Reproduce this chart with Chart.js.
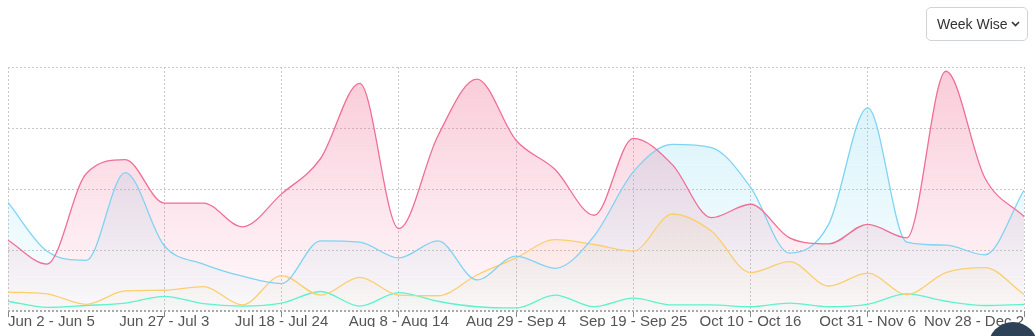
<!DOCTYPE html>
<html lang="en">
<head>
  <meta charset="UTF-8" />
  <title>Weekly Trend</title>
  <script src="https://cdn.jsdelivr.net/npm/chart.js"></script>
  <style>
    body { margin: 0; background: #fff; font-family: "Liberation Sans", Arial, sans-serif; }
    .wrap { position: relative; width: 1036px; height: 336px; overflow: hidden; }
    .chart-box { position: absolute; left: 0; top: 0; width: 1036px; height: 336px; }
    .week-select {
      position: absolute; left: 926px; top: 7px; width: 100px; height: 32px;
      border: 1px solid #cfd4da; border-radius: 5px; background: #fff;
      font-size: 14px; color: #333; line-height: 32px; box-sizing: content-box;
    }
    .week-select span { position: absolute; left: 10px; }
    .week-select svg { position: absolute; right: 7px; top: 13px; }
    .chat-btn {
      position: absolute; left: 988px; top: 322px; width: 50px; height: 50px;
      border-radius: 50%; background: #2d4157;
    }
  </style>
</head>
<body>
  <div class="wrap">
    <div class="chart-box"><canvas id="weekChart"></canvas></div>

    <!-- period dropdown -->
    <div class="week-select">
      <span>Week Wise</span>
      <svg width="9" height="6" viewBox="0 0 9 6"><path d="M1 1 L4.5 4.5 L8 1" fill="none" stroke="#333" stroke-width="1.6"/></svg>
    </div>

    <div class="chat-btn"></div>
  </div>

  <script>
    const weeks = [
      'Jun 2 - Jun 5', 'Jun 6 - Jun 12', 'Jun 13 - Jun 19', 'Jun 20 - Jun 26', 'Jun 27 - Jul 3',
      'Jul 4 - Jul 10', 'Jul 11 - Jul 17', 'Jul 18 - Jul 24', 'Jul 25 - Jul 31', 'Aug 1 - Aug 7',
      'Aug 8 - Aug 14', 'Aug 15 - Aug 21', 'Aug 22 - Aug 28', 'Aug 29 - Sep 4', 'Sep 5 - Sep 11',
      'Sep 12 - Sep 18', 'Sep 19 - Sep 25', 'Sep 26 - Oct 2', 'Oct 3 - Oct 9', 'Oct 10 - Oct 16',
      'Oct 17 - Oct 23', 'Oct 24 - Oct 30', 'Oct 31 - Nov 6', 'Nov 7 - Nov 13', 'Nov 14 - Nov 20',
      'Nov 21 - Nov 27', 'Nov 28 - Dec 2'
    ];
    // which week labels get a tick + grid line
    const shownWeeks = [0, 4, 7, 10, 13, 16, 19, 22, 26];

    const pinkSeries   = [11.6, 7.7, 22.5, 24.8, 17.7, 17.7, 13.8, 19.2, 25.0, 37.3, 13.5, 28.7, 38.0, 28.0, 23.2, 15.7, 28.3, 24.0, 15.3, 17.5, 12.0, 11.0, 14.2, 12.0, 39.3, 21.8, 15.5];
    const blueSeries   = [17.8, 9.8, 8.3, 22.7, 10.7, 7.7, 5.7, 4.5, 11.5, 11.3, 8.7, 11.5, 5.1, 9.0, 7.0, 12.3, 22.8, 27.3, 26.8, 20.3, 9.5, 14.2, 33.3, 11.3, 10.8, 9.2, 19.8];
    const yellowSeries = [3.1, 2.8, 1.1, 3.3, 3.4, 4.0, 1.0, 5.8, 2.6, 5.5, 2.6, 2.5, 5.9, 8.7, 11.7, 10.9, 9.8, 15.9, 13.1, 6.3, 8.1, 4.1, 6.2, 2.7, 6.3, 7.1, 2.7];
    const tealSeries   = [1.6, 0.6, 0.9, 1.3, 2.4, 1.2, 0.8, 1.3, 3.2, 0.8, 3.0, 1.6, 0.7, 0.5, 2.6, 0.7, 2.1, 1.0, 1.0, 0.7, 1.3, 0.7, 1.1, 2.8, 1.6, 0.9, 1.1];

    // vertical fade fill, strong at top, almost white at the bottom
    function fade(rgb, topAlpha) {
      return (context) => {
        const { ctx, chartArea } = context.chart;
        if (!chartArea) return 'rgba(' + rgb + ',0.1)';
        const g = ctx.createLinearGradient(0, chartArea.top, 0, chartArea.bottom);
        g.addColorStop(0, 'rgba(' + rgb + ',' + topAlpha + ')');
        g.addColorStop(1, 'rgba(' + rgb + ',0.03)');
        return g;
      };
    }

    function series(data, line, rgb, topAlpha) {
      return {
        data: data,
        borderColor: line,
        borderWidth: 1.3,
        backgroundColor: fade(rgb, topAlpha),
        fill: 'origin',
        pointRadius: 0,
        cubicInterpolationMode: 'monotone'
      };
    }

    new Chart(document.getElementById('weekChart'), {
      type: 'line',
      data: {
        labels: weeks,
        datasets: [
          series(pinkSeries, '#ef6f96', '240,110,150', 0.36),
          series(blueSeries, '#7fd3f3', '120,215,240', 0.32),
          series(yellowSeries, '#fbcf6e', '245,205,130', 0.35),
          series(tealSeries, '#5ff2cc', '100,235,205', 0.35)
        ]
      },
      options: {
        responsive: true,
        maintainAspectRatio: false,
        animation: false,
        layout: { padding: { left: 8, right: 12, top: 67, bottom: 9 } },
        plugins: {
          legend: { display: false },
          tooltip: { enabled: false },
          // all areas first, then every line on top of them
          filler: { drawTime: 'beforeDatasetsDraw' }
        },
        scales: {
          x: {
            afterBuildTicks: axis => {
              axis.ticks = axis.ticks.filter(t => shownWeeks.includes(t.value));
            },
            ticks: {
              autoSkip: false,
              maxRotation: 0,
              align: 'inner',
              padding: -4,
              color: '#555',
              font: { size: 15, family: '"Liberation Sans", Arial, sans-serif' }
            },
            grid: {
              color: '#c8c8c8',
              tickLength: 6,
              tickColor: '#888',
              tickBorderDash: []
            },
            border: { display: false, dash: [2, 2] }
          },
          y: {
            min: 0,
            max: 40,
            ticks: { display: false, stepSize: 10 },
            grid: {
              drawTicks: false,
              // bottom line is the heavier axis line
              color: ctx => ctx.tick && ctx.tick.value === 0 ? '#a8a8a8' : '#c8c8c8',
              lineWidth: ctx => ctx.tick && ctx.tick.value === 0 ? 2 : 1
            },
            border: { display: false, dash: [2, 2] }
          }
        }
      }
    });
  </script>
</body>
</html>
